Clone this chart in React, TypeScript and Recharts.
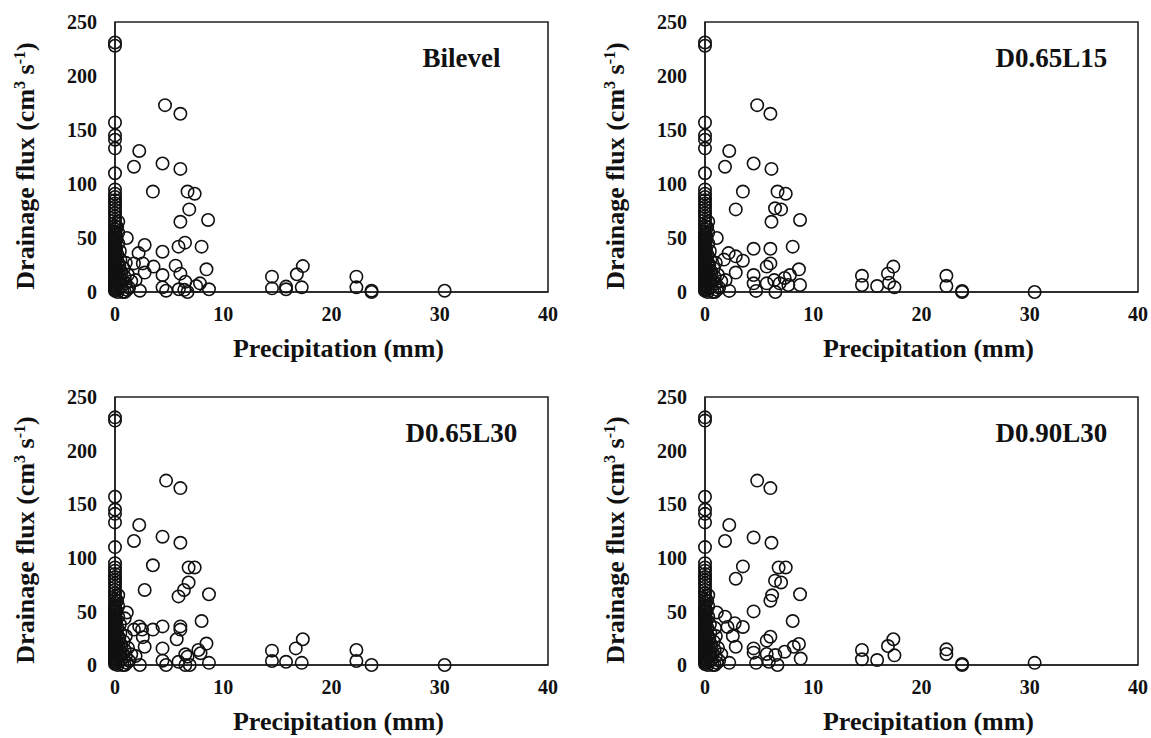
import React from "react";
import {
  ScatterChart,
  Scatter,
  XAxis,
  YAxis,
  ReferenceArea,
} from "recharts";

const FONT = "Liberation Serif, Times New Roman, serif";

const xTicks = [0, 10, 20, 30, 40];
const yTicks = [0, 50, 100, 150, 200, 250];

// days with no rain: drainage stacked on the y axis (shared by all treatments)
const zeroFlux = [
  228, 231, 157, 145, 141, 133, 110, 95, 91, 88, 85, 82, 79, 76, 73, 70, 67, 64,
  61, 58, 55, 52, 49, 46, 43, 40, 37, 34, 31, 28, 25, 22, 19, 16, 13, 10, 7, 4, 1,
  2.5, 5.5, 8.5, 11.5, 14.5, 17.5, 20.5, 23.5, 26.5, 29.5, 32.5, 35.5, 38.5, 41.5,
  44.5, 47.5, 50.5, 53.5,
];

// light rain cluster next to the origin
const nearPrecip = [
  0.2, 0.3, 0.2, 0.4, 0.3, 0.5, 0.6, 0.2, 0.8, 0.9, 1.0, 1.1, 0.5, 0.7, 1.3, 1.5, 0.4, 0.6, 1.2,
  0.15, 0.1, 0.25, 0.15, 0.3, 0.1, 0.2, 0.35, 0.25, 0.45, 0.4, 0.15, 0.3, 0.5, 0.7, 0.9, 1.0, 0.3,
];
const nearFlux = [
  60, 45, 35, 25, 18, 12, 5, 2, 22, 14, 8, 2, 30, 0, 4, 10, 8, 18, 16,
  50, 40, 28, 20, 10, 6, 14, 3, 0, 38, 15, 30, 55, 20, 10, 0, 27, 65,
];

const bilevelPrecip = [
  4.62, 6.04, 2.24, 1.75, 4.39, 6.04, 3.5, 6.7, 7.36, 6.86, 6.04, 8.6, 1.09, 2.74, 4.39, 5.87, 6.47,
  8.0, 2.18, 2.57, 1.75, 3.56, 5.6, 8.45, 4.39, 2.74, 6.04, 1.9, 4.39, 6.5, 7.85, 7.5, 2.3, 4.72,
  5.9, 6.7, 6.4, 8.68, 14.5, 14.5, 15.8, 15.8, 16.8, 17.35, 17.25, 22.3, 22.3, 23.7, 23.7, 30.45,
];
const bilevelFlux = [
  173, 165, 130.6, 116, 119, 114, 93, 93, 91, 76.5, 65, 66.7, 50, 43.5, 37.3, 42, 45.7, 42, 36,
  26.5, 26.5, 23.5, 24.4, 21, 15.7, 18, 17, 11, 4.3, 9.5, 8, 5.5, 1.2, 1.2, 2.5, 0, 2, 2.5, 14.2,
  3.4, 5, 2.5, 16.4, 24, 4.3, 14.2, 4.3, 1.2, 0, 1.2,
];

const d65l15Precip = [
  4.82, 6.04, 2.24, 1.85, 4.49, 6.14, 3.5, 6.7, 7.46, 2.84, 6.47, 7.03, 6.14, 8.78, 1.09, 4.49,
  6.04, 8.1, 2.18, 2.84, 3.5, 1.75, 6.04, 5.7, 8.68, 2.84, 4.49, 7.36, 7.85, 1.9, 4.49, 5.7, 6.4,
  6.9, 7.7, 8.78, 2.24, 4.72, 6.5, 14.5, 14.5, 15.9, 16.9, 17.4, 17.0, 17.5, 22.3, 22.3, 23.75,
  23.75, 30.45,
];
const d65l15Flux = [
  173, 165, 130.6, 116, 119, 114, 93, 93, 91, 76.5, 77.5, 76.5, 65, 66.7, 50, 40, 40, 42, 36, 33,
  29, 30, 26.5, 23.5, 21, 18, 15.7, 13, 15.7, 11, 8, 8, 11, 8, 6.5, 6.5, 1, 1, 0, 15, 6.5, 5.5,
  17, 23.5, 8.6, 4.3, 15, 5.5, 1, 0, 0,
];

const d65l30Precip = [
  4.72, 6.04, 2.24, 1.75, 4.39, 6.04, 3.5, 6.8, 7.36, 6.8, 6.37, 5.87, 2.74, 8.68, 1.09, 0.9, 8.0,
  4.39, 6.04, 6.04, 2.24, 2.5, 3.5, 1.75, 2.57, 5.7, 8.45, 2.74, 4.39, 7.7, 7.9, 1.9, 6.5, 6.7,
  4.39, 5.87, 8.68, 4.72, 6.5, 6.9, 2.3, 14.5, 14.5, 15.8, 16.7, 17.35, 17.25, 22.3, 22.3, 23.7,
  30.45,
];
const d65l30Flux = [
  172, 165, 130.6, 115.7, 119.7, 114, 93, 91, 91, 77, 70, 64, 70, 66, 49, 43.5, 41, 36, 36, 33,
  36, 33, 33, 33, 26, 24, 20, 17, 15.5, 14, 11, 8.4, 10, 7.8, 4, 3, 2, 0, 0, 0, 0, 13.4, 3.7, 3,
  15.5, 24, 2, 14, 3.7, 0, 0,
];

const d90l30Precip = [
  4.82, 6.04, 2.24, 1.85, 4.49, 6.14, 3.5, 2.84, 6.8, 7.46, 6.47, 7.03, 6.2, 6.04, 8.78, 1.09,
  4.49, 8.1, 1.85, 2.74, 3.5, 2.08, 0.92, 2.57, 6.04, 5.7, 8.68, 8.2, 2.84, 4.49, 4.49, 7.36, 5.7,
  6.5, 8.84, 2.24, 4.72, 6.7, 5.9, 14.5, 14.5, 15.9, 16.9, 17.4, 17.5, 22.3, 22.3, 23.75, 23.75,
  30.45,
];
const d90l30Flux = [
  172, 165, 130.6, 115.7, 119, 114, 92, 80.5, 91, 91, 78.7, 77, 65, 60, 66, 49, 50, 41, 45, 39,
  35.5, 35.5, 34.5, 27, 26.4, 22.7, 19.6, 17, 17, 15.5, 11.5, 12.4, 10.3, 9.3, 6, 2, 2, 0, 3, 14,
  5.3, 4.6, 17.7, 24, 9, 14.6, 10.3, 0, 1, 2,
];

const tickStyle = { fontFamily: FONT, fontSize: 20, fontWeight: 700, fill: "#111" };

function buildPoints(xs: number[], ys: number[]) {
  return [
    ...zeroFlux.map((y) => ({ x: 0, y })),
    ...nearPrecip.map((x, i) => ({ x, y: nearFlux[i] })),
    ...xs.map((x, i) => ({ x, y: ys[i] })),
  ];
}

const OpenCircle = (p: any) => (
  <circle cx={p.cx} cy={p.cy} r={6.2} fill="none" stroke="#111" strokeWidth={1.6} />
);

const XTitle = ({ viewBox }: any) => (
  <text
    x={viewBox.x + viewBox.width / 2 + 7}
    y={viewBox.y + 65}
    textAnchor="middle"
    fontFamily={FONT}
    fontSize={26}
    fontWeight={700}
    fill="#111"
  >
    Precipitation (mm)
  </text>
);

const YTitle = ({ viewBox }: any) => {
  const cx = 34;
  const cy = viewBox.y + viewBox.height / 2 + 9;
  return (
    <text
      x={cx}
      y={cy}
      transform={`rotate(-90, ${cx}, ${cy})`}
      textAnchor="middle"
      fontFamily={FONT}
      fontSize={26}
      fontWeight={700}
      fill="#111"
    >
      Drainage flux (cm
      <tspan dy={-9} fontSize={16}>3</tspan>
      <tspan dy={9}> s</tspan>
      <tspan dy={-9} fontSize={16}>-1</tspan>
      <tspan dy={9}>)</tspan>
    </text>
  );
};

function Panel({
  title,
  xs,
  ys,
  left,
  top,
  height,
  bottom,
}: {
  title: string;
  xs: number[];
  ys: number[];
  left: number;
  top: number;
  height: number;
  bottom: number;
}) {
  const data = buildPoints(xs, ys);
  const TitleLabel = ({ viewBox }: any) => (
    <text
      x={viewBox.x + viewBox.width * 0.8}
      y={viewBox.y + 45}
      textAnchor="middle"
      fontFamily={FONT}
      fontSize={27}
      fontWeight={700}
      fill="#111"
    >
      {title}
    </text>
  );
  return (
    <div style={{ position: "absolute", left, top }}>
      <ScatterChart
        width={560}
        height={height}
        margin={{ top: 22, right: 12, bottom, left: 55 }}
      >
        <XAxis
          type="number"
          dataKey="x"
          domain={[0, 40]}
          ticks={xTicks}
          tickLine={false}
          tickMargin={9}
          height={60}
          axisLine={{ stroke: "#222", strokeWidth: 1.6 }}
          tick={tickStyle}
          label={{ content: XTitle }}
        />
        <YAxis
          type="number"
          dataKey="y"
          domain={[0, 250]}
          ticks={yTicks}
          tickLine={false}
          tickMargin={12}
          width={60}
          axisLine={{ stroke: "#222", strokeWidth: 1.6 }}
          tick={tickStyle}
          label={{ content: YTitle }}
        />
        <ReferenceArea
          x1={0}
          x2={40}
          y1={0}
          y2={250}
          fill="none"
          stroke="#222"
          strokeWidth={1.6}
          fillOpacity={0}
          label={{ content: TitleLabel }}
        />
        <Scatter data={data} shape={OpenCircle} isAnimationActive={false} />
      </ScatterChart>
    </div>
  );
}

export default function App() {
  return (
    <div
      style={{
        position: "absolute",
        left: 0,
        top: 0,
        width: 1151,
        height: 738,
        overflow: "hidden",
        background: "#fff",
      }}
    >
      <Panel title="Bilevel" xs={bilevelPrecip} ys={bilevelFlux} left={0} top={0} height={369} bottom={17} />
      <Panel title="D0.65L15" xs={d65l15Precip} ys={d65l15Flux} left={590} top={0} height={369} bottom={17} />
      <Panel title="D0.65L30" xs={d65l30Precip} ys={d65l30Flux} left={0} top={375} height={363} bottom={13} />
      <Panel title="D0.90L30" xs={d90l30Precip} ys={d90l30Flux} left={590} top={375} height={363} bottom={13} />
    </div>
  );
}
